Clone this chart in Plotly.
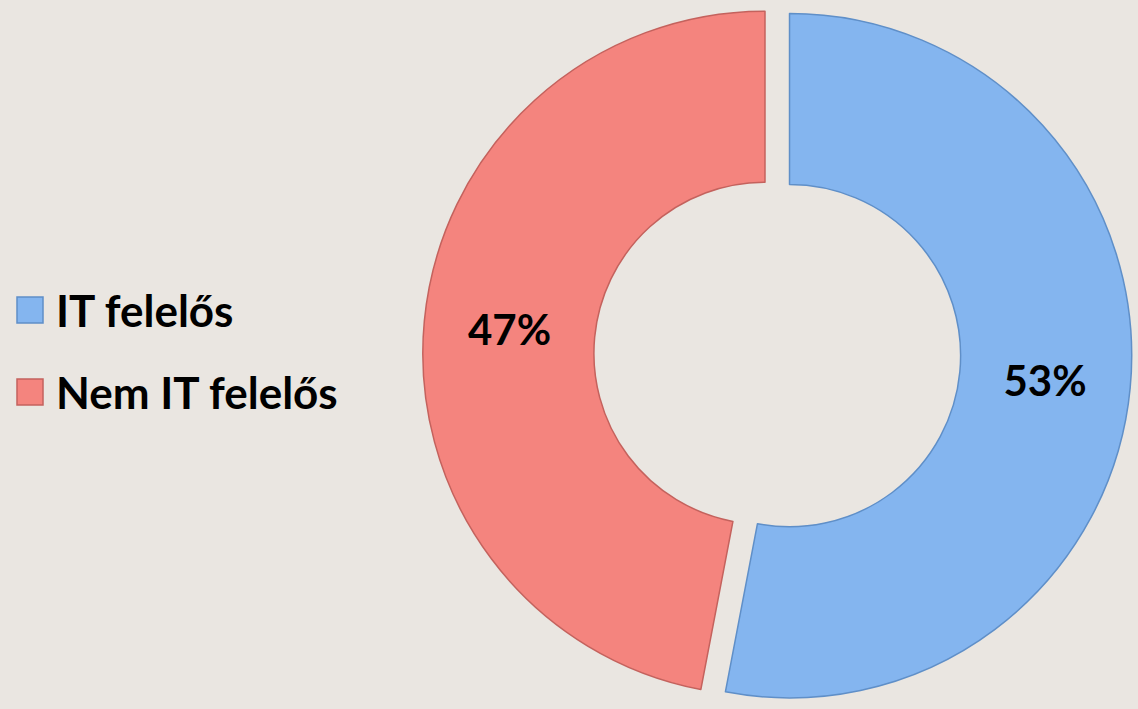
import plotly.graph_objects as go

categories = ["IT felelős", "Nem IT felelős"]
values = [53, 47]
colors = ["#84B5EF", "#F4847E"]
line_colors = ["#5F8FC8", "#C4625D"]

fig = go.Figure()
fig.add_trace(go.Pie(
    labels=categories,
    values=values,
    hole=0.5,
    sort=False,
    direction="clockwise",
    rotation=0,
    pull=[0.036, 0.036],
    marker=dict(colors=colors, line=dict(color=line_colors, width=1.5)),
    textinfo="percent",
    texttemplate="%{percent:.0%}",
    textposition="inside",
    insidetextorientation="horizontal",
    textfont=dict(family="Lato", size=42, color="black", weight="bold"),
    showlegend=False,
    domain=dict(x=[0.371, 0.995], y=[0.0, 1.0]),
))

# manual legend
legend_y = [310, 392]
H = 709
W = 1138
for i, (cat, col) in enumerate(zip(categories, colors)):
    yc = 1 - legend_y[i] / H
    fig.add_shape(type="rect", xref="paper", yref="paper",
                  x0=17 / W, x1=43 / W,
                  y0=yc - 13 / H, y1=yc + 13 / H,
                  fillcolor=col, line=dict(color=line_colors[i], width=1.5))
    fig.add_annotation(x=54 / W, y=yc, xref="paper", yref="paper",
                       text=cat, showarrow=False, xanchor="left", yanchor="middle",
                       font=dict(family="Lato", size=44, color="black", weight="bold"))

fig.update_layout(
    width=W, height=H,
    margin=dict(l=0, r=0, t=0, b=0),
    paper_bgcolor="#EAE6E1",
    plot_bgcolor="#EAE6E1",
)

fig.write_html("out.html")
